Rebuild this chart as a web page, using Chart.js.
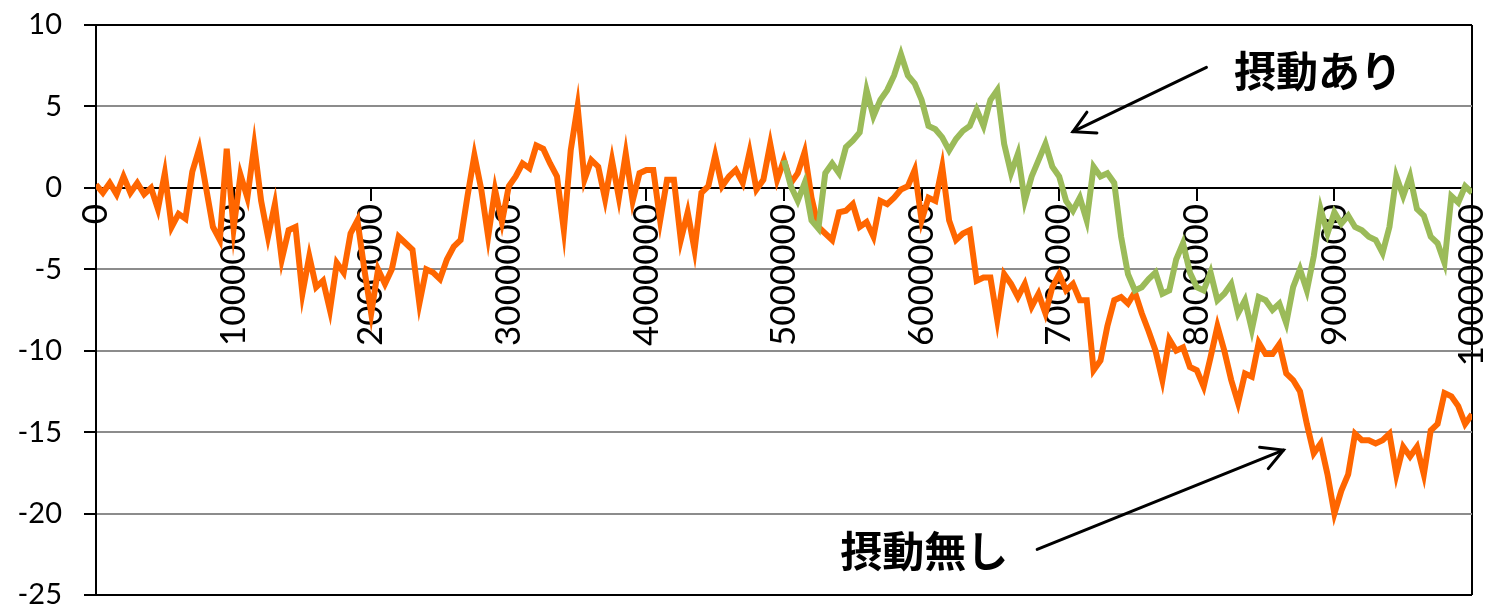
<!DOCTYPE html>
<html>
<head>
<meta charset="utf-8">
<script src="https://cdn.jsdelivr.net/npm/chart.js@4"></script>
<style>
  body { margin: 0; background: #fff; }
</style>
</head>
<body>
<canvas id="walkChart" width="1485" height="608"></canvas>
<script>
// sample spacing of the walk (x units per point)
const STEP = 50000;

const xTicks = [0, 1000000, 2000000, 3000000, 4000000, 5000000, 6000000, 7000000, 8000000, 9000000, 10000000];
const yTicks = [10, 5, 0, -5, -10, -15, -20, -25];

// 摂動無し (orange), one value per STEP from 0
const noPerturb = [
  0.2, -0.3, 0.3, -0.4, 0.7, -0.3, 0.3, -0.4, 0.0, -1.3,
  0.9, -2.4, -1.6, -1.9, 1.0, 2.4, 0.0, -2.4, -3.2, 2.4,
  -2.5, 0.8, -0.6, 2.6, -0.8, -3.0, -1.0, -4.4, -2.6, -2.4,
  -6.5, -4.2, -6.1, -5.7, -7.5, -4.6, -5.2, -2.8, -2.0, -5.0,
  -7.7, -5.0, -5.9, -5.0, -3.0, -3.4, -3.8, -7.1, -5.0, -5.2,
  -5.6, -4.4, -3.6, -3.2, -0.5, 2.0, -0.1, -3.0, -0.1, -2.1,
  0.1, 0.7, 1.5, 1.2, 2.6, 2.4, 1.5, 0.7, -2.6, 2.3,
  5.0, 0.5, 1.7, 1.3, -0.7, 1.7, -0.6, 2.1, -0.8, 0.9,
  1.1, 1.1, -2.0, 0.5, 0.5, -3.2, -1.5, -3.8, -0.3, 0.1,
  2.0, 0.1, 0.7, 1.1, 0.3, 2.2, -0.1, 0.5, 2.7, 0.5,
  1.7, 0.3, 0.9, 2.2, -0.6, -2.4, -2.8, -3.2, -1.5, -1.4,
  -1.0, -2.4, -2.1, -3.0, -0.8, -1.0, -0.6, -0.1, 0.1, 1.1,
  -2.0, -0.6, -0.8, 1.3, -2.0, -3.2, -2.8, -2.6, -5.7, -5.5,
  -5.5, -8.1, -5.3, -5.9, -6.7, -5.9, -7.3, -6.5, -7.7, -6.1,
  -5.3, -6.3, -5.9, -6.9, -6.9, -11.2, -10.6, -8.5, -6.9, -6.7,
  -7.1, -6.4, -7.7, -8.8, -10.0, -11.8, -9.3, -10.0, -9.8, -11.0,
  -11.2, -12.2, -10.4, -8.5, -10.0, -11.8, -13.2, -11.4, -11.6, -9.5,
  -10.2, -10.2, -9.6, -11.4, -11.8, -12.5, -14.5, -16.3, -15.7, -17.6,
  -20.0, -18.6, -17.6, -15.1, -15.5, -15.5, -15.7, -15.5, -15.1, -17.6,
  -15.9, -16.5, -15.9, -17.6, -14.9, -14.5, -12.6, -12.8, -13.4, -14.5,
  -13.9
];

// 摂動あり (green), starts at index 100 (x = 5000000)
const perturbStart = 100;
const withPerturb = [
  1.7, 0.1, -0.8, 0.3, -2.0, -2.5, 0.9, 1.5, 0.9, 2.5,
  2.9, 3.4, 6.0, 4.4, 5.4, 6.0, 6.9, 8.2, 6.9, 6.4,
  5.4, 3.8, 3.6, 3.1, 2.3, 3.0, 3.5, 3.8, 4.8, 3.8,
  5.4, 6.0, 2.7, 0.9, 2.1, -0.8, 0.7, 1.7, 2.7, 1.3,
  0.7, -0.8, -1.4, -0.6, -2.0, 1.3, 0.7, 0.9, 0.3, -3.0,
  -5.3, -6.3, -6.1, -5.6, -5.2, -6.5, -6.3, -4.4, -3.4, -5.2,
  -6.1, -6.3, -5.2, -6.9, -6.5, -5.9, -7.7, -6.9, -8.7, -6.7,
  -6.9, -7.5, -7.1, -8.3, -6.1, -5.0, -6.3, -4.2, -1.3, -2.8,
  -1.5, -2.2, -1.7, -2.4, -2.6, -3.0, -3.2, -4.0, -2.4, 0.7,
  -0.5, 0.7, -1.3, -1.7, -3.0, -3.4, -4.6, -0.5, -0.9, 0.1,
  -0.3
];

// annotation texts with arrows, positioned in data units
const notes = [
  { text: '摂動あり', at: [8880000, 7.2], from: [8070000, 7.4], to: [7100000, 3.45] },
  { text: '摂動無し', at: [6020000, -22.3], from: [6840000, -22.2], to: [8630000, -16.1] }
];

const toPoints = (vals, start) => vals.map((v, i) => ({ x: (start + i) * STEP, y: v }));

const notesPlugin = {
  id: 'notes',
  afterDatasetsDraw(chart) {
    const { ctx, scales: { x, y } } = chart;
    ctx.save();
    ctx.fillStyle = '#000';
    ctx.strokeStyle = '#000';
    ctx.lineWidth = 3;
    ctx.lineCap = 'round';
    ctx.font = 'bold 42px "Noto Sans CJK JP"';
    ctx.textAlign = 'center';
    ctx.textBaseline = 'middle';
    notes.forEach(n => {
      ctx.fillText(n.text, x.getPixelForValue(n.at[0]), y.getPixelForValue(n.at[1]));
      const x1 = x.getPixelForValue(n.from[0]), y1 = y.getPixelForValue(n.from[1]);
      const x2 = x.getPixelForValue(n.to[0]), y2 = y.getPixelForValue(n.to[1]);
      ctx.beginPath();
      ctx.moveTo(x1, y1);
      ctx.lineTo(x2, y2);
      ctx.stroke();
      const ang = Math.atan2(y2 - y1, x2 - x1);
      const len = 24;
      ctx.beginPath();
      ctx.moveTo(x2 - len * Math.cos(ang - 0.5), y2 - len * Math.sin(ang - 0.5));
      ctx.lineTo(x2, y2);
      ctx.lineTo(x2 - len * Math.cos(ang + 0.5), y2 - len * Math.sin(ang + 0.5));
      ctx.stroke();
    });
    ctx.restore();
  }
};

new Chart(document.getElementById('walkChart'), {
  type: 'line',
  data: {
    datasets: [
      {
        label: '摂動あり',
        data: toPoints(withPerturb, perturbStart),
        borderColor: '#9BBB59',
        borderWidth: 6,
        pointRadius: 0,
        tension: 0
      },
      {
        label: '摂動無し',
        data: toPoints(noPerturb, 0),
        borderColor: '#FF6600',
        borderWidth: 6,
        pointRadius: 0,
        tension: 0
      }
    ]
  },
  options: {
    responsive: false,
    animation: false,
    devicePixelRatio: 1,
    layout: { padding: { left: 0, right: 13, top: 25, bottom: 13 } },
    plugins: { legend: { display: false }, tooltip: { enabled: false } },
    scales: {
      x: {
        type: 'linear',
        position: { y: 0 },
        min: 0,
        max: 10000000,
        afterBuildTicks: s => { s.ticks = xTicks.map(v => ({ value: v })); },
        afterFit: s => { s.paddingLeft = 0; s.paddingRight = 0; },
        border: { color: '#000', width: 2 },
        grid: {
          color: c => (c.tick && c.tick.value === 10000000) ? '#000' : 'rgba(0,0,0,0)',
          lineWidth: 2,
          tickLength: 12,
          tickColor: '#000'
        },
        ticks: {
          autoSkip: false,
          minRotation: 90,
          maxRotation: 90,
          padding: 4,
          color: '#000',
          font: { family: 'Lato', size: 35 },
          callback: v => String(v)
        }
      },
      y: {
        min: -25,
        max: 10,
        afterBuildTicks: s => { s.ticks = yTicks.map(v => ({ value: v })); },
        afterFit: s => { s.width = 96; s.paddingTop = 0; s.paddingBottom = 0; },
        border: { color: '#000', width: 2 },
        grid: {
          color: c => [10, 0, -25].includes(c.tick.value) ? '#000' : '#8c8c8c',
          lineWidth: 2,
          tickLength: 12,
          tickColor: '#000'
        },
        ticks: {
          padding: 22,
          color: '#000',
          font: { family: 'Lato', size: 29 }
        }
      }
    }
  },
  plugins: [notesPlugin]
});
</script>
</body>
</html>
